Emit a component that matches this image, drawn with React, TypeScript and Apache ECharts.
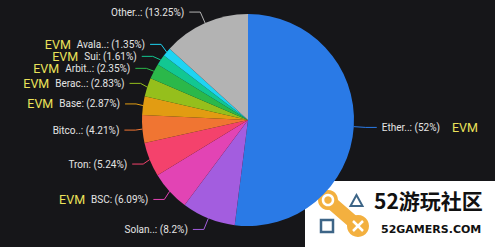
import React, { useEffect, useRef } from "react";
import * as echarts from "echarts";

const chainNames = ["Ethereum", "Solana", "BSC", "Tron", "Bitcoin", "Base", "Berachain", "Arbitrum", "Sui", "Avalanche", "Others"];
const chainShares = [52, 8.2, 6.09, 5.24, 4.21, 2.87, 2.83, 2.35, 1.61, 1.35, 13.25];
const evmFlags = [true, false, true, false, false, true, true, true, true, true, false];
const sliceColors = ["#2a7ae6", "#a35ddf", "#e244b4", "#f4426c", "#f07532", "#e29c12", "#95bf1c", "#2bb84a", "#12c792", "#1ed4f2", "#b3b3b3"];
const evmTag = "EVM";
const logoTitle = "52游玩社区";
const logoSub = "52GAMERS.COM";

function shortName(n: string): string {
  return n.length > 5 ? n.slice(0, 5) + ".." : n;
}

export default function App() {
  const ref = useRef<HTMLDivElement>(null);
  useEffect(() => {
    if (!ref.current) return;
    const chart = echarts.init(ref.current, null, { renderer: "svg" });
    const total = chainShares.reduce((a, b) => a + b, 0);
    const midFrac: number[] = [];
    let acc = 0;
    chainShares.forEach((v) => {
      midFrac.push((acc + v / 2) / total);
      acc += v;
    });
    const mainRects: Record<number, any> = {};
    const mainData = chainNames.map((n, i) => ({
      name: n,
      value: chainShares[i],
      itemStyle: { color: sliceColors[i], borderWidth: 0 },
    }));
    const tagData = chainNames.map((n, i) => ({
      name: n,
      value: chainShares[i],
      label: { show: evmFlags[i] },
    }));
    const orange = "#f3b03f";
    const blueGray = "#3d6587";
    const pieBase = {
      type: "pie",
      center: [248, 120],
      radius: 106,
      startAngle: 90,
      clockwise: true,
      emphasis: { disabled: true },
    };
    chart.setOption({
      animation: false,
      backgroundColor: "#161619",
      series: [
        {
          ...pieBase,
          avoidLabelOverlap: true,
          itemStyle: { borderWidth: 0 },
          data: mainData,
          label: {
            color: "#e4e4e4",
            fontFamily: "Roboto",
            fontSize: 10,
            formatter: (p: any) => `${shortName(chainNames[p.dataIndex])}: (${chainShares[p.dataIndex]}%)`,
          },
          labelLine: { length: 12, length2: 11, lineStyle: { width: 1 } },
          labelLayout: (params: any) => {
            mainRects[params.dataIndex] = params.labelRect;
            return { hideOverlap: false };
          },
        },
        {
          ...pieBase,
          silent: true,
          z: 3,
          avoidLabelOverlap: false,
          itemStyle: { color: "rgba(0,0,0,0)", borderWidth: 0 },
          data: tagData,
          label: {
            color: "#ebe25a",
            fontFamily: "Roboto",
            fontSize: 12.5,
            lineHeight: 11,
            formatter: () => evmTag,
          },
          labelLine: { show: false },
          labelLayout: (params: any) => {
            const r = mainRects[params.dataIndex];
            if (!r) return { hideOverlap: false };
            const right = midFrac[params.dataIndex] < 0.5;
            return {
              x: right ? r.x + r.width + 12 : r.x - 6,
              y: r.y + r.height / 2,
              align: right ? "left" : "right",
              verticalAlign: "middle",
              hideOverlap: false,
            };
          },
        },
      ],
      graphic: [
        {
          type: "group",
          z: 100,
          children: [
            { type: "rect", shape: { x: 305, y: 181, width: 190, height: 66 }, style: { fill: "#ffffff" } },
            { type: "line", shape: { x1: 328, y1: 200, x2: 358, y2: 226 }, style: { stroke: orange, lineWidth: 13, lineCap: "round" } },
            { type: "circle", shape: { cx: 328, cy: 200, r: 10 }, style: { fill: orange } },
            { type: "circle", shape: { cx: 358, cy: 226, r: 11 }, style: { fill: orange } },
            { type: "circle", shape: { cx: 328, cy: 200, r: 5 }, style: { fill: "none", stroke: "#ffffff", lineWidth: 2.5 } },
            { type: "line", shape: { x1: 353, y1: 221, x2: 363, y2: 231 }, style: { stroke: "#ffffff", lineWidth: 2.5 } },
            { type: "line", shape: { x1: 363, y1: 221, x2: 353, y2: 231 }, style: { stroke: "#ffffff", lineWidth: 2.5 } },
            { type: "polygon", shape: { points: [[356.5, 195], [350.5, 206], [362.5, 206]] }, style: { fill: "none", stroke: blueGray, lineWidth: 2 } },
            { type: "rect", shape: { x: 321, y: 220, width: 12, height: 12 }, style: { fill: "none", stroke: blueGray, lineWidth: 2.5 } },
            {
              type: "text",
              style: {
                text: logoTitle,
                x: 374,
                y: 200,
                fill: "#111111",
                font: 'bold 21px "Noto Sans CJK SC"',
                verticalAlign: "middle",
                align: "left",
              },
            },
            {
              type: "text",
              style: {
                text: logoSub,
                x: 381,
                y: 229,
                fill: "#111111",
                font: 'bold 11px "DejaVu Sans"',
                verticalAlign: "middle",
                align: "left",
              },
            },
          ],
        },
      ],
    });
    return () => chart.dispose();
  }, []);
  return <div ref={ref} style={{ position: "absolute", left: 0, top: 0, width: 495, height: 247 }} />;
}
